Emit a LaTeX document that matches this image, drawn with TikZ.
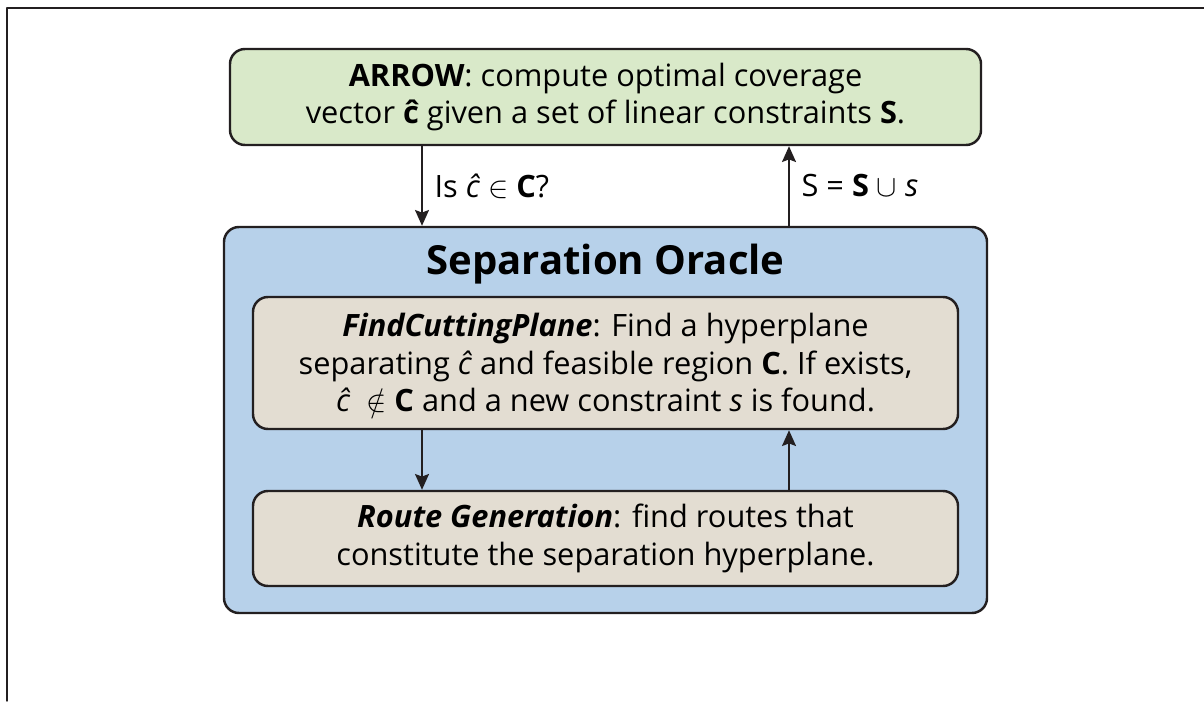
\documentclass[tikz,border=0pt]{standalone}
\usepackage{fontspec}
\setmainfont{Open Sans}
\usetikzlibrary{arrows.meta,positioning}
\definecolor{arrowgreen}{RGB}{217,233,201}
\definecolor{oracleblue}{RGB}{183,209,234}
\definecolor{steptan}{RGB}{227,221,210}
\definecolor{edgegray}{RGB}{35,31,32}

\tikzset{
  box/.style={draw=edgegray,line width=1.4pt,rounded corners=0.3cm,align=center,
    inner sep=0pt,font=\fontsize{17.5}{21.5}\selectfont},
  flow/.style={-{Stealth[length=9pt,width=8pt,inset=1.5pt]},line width=0.85pt,draw=edgegray},
  lbl/.style={right,xshift=0.12cm,font=\fontsize{17.5}{21.5}\selectfont},
}

\begin{document}
\begin{tikzpicture}[line cap=round,line join=round,x=1.0cm,y=1.0cm]
	\useasboundingbox (0,0) rectangle (24.08,14.02);
	\draw [line width=0.8pt,color=edgegray] (0.14,0.) -- (0.14,13.86) -- (24.08,13.86);
	% boxes
	\node [box,fill=arrowgreen,minimum width=15.02cm,minimum height=1.92cm] (arrow) at (12.11,12.08)
		{\textbf{ARROW}: compute optimal coverage\\ vector \textbf{ĉ} given a set of linear constraints \textbf{S}.};
	\node [box,fill=oracleblue,minimum width=15.26cm,minimum height=7.72cm] (oracle) at (12.11,5.62) {};
	\node [font=\fontsize{22.8}{26}\selectfont\bfseries] (title) at (12.11,8.74) {Separation Oracle};
	\node [box,fill=steptan,minimum width=14.10cm,minimum height=2.64cm] (cutplane) at (12.11,6.76)
		{\textbf{\textit{FindCuttingPlane}}: Find a hyperplane\\ separating \textit{ĉ} and feasible region \textbf{C}. If exists,\\ \textit{ĉ}\ \ $\notin$ \textbf{C} and a new constraint \textit{s} is found.};
	\node [box,fill=steptan,minimum width=14.10cm,minimum height=1.90cm] (routegen) at (12.11,3.25)
		{\textbf{\textit{Route Generation}}: find routes that\\ constitute the separation hyperplane.};
	% connectors
	\draw [flow] ([xshift=-3.67cm]arrow.south) -- ([xshift=-3.67cm]arrow.south |- oracle.north)
		node [midway,lbl] (isC) {Is \textit{ĉ} $\in$ \textbf{C}?};
	\draw [flow] ([xshift=3.67cm]arrow.south |- oracle.north) -- ([xshift=3.67cm]arrow.south)
		node [midway,lbl] (update) {S = \textbf{S} $\cup$ \textit{s}};
	\draw [flow] ([xshift=-3.67cm]cutplane.south) -- ([xshift=-3.67cm]cutplane.south |- routegen.north);
	\draw [flow] ([xshift=3.67cm]cutplane.south |- routegen.north) -- ([xshift=3.67cm]cutplane.south);
\end{tikzpicture}
\end{document}
